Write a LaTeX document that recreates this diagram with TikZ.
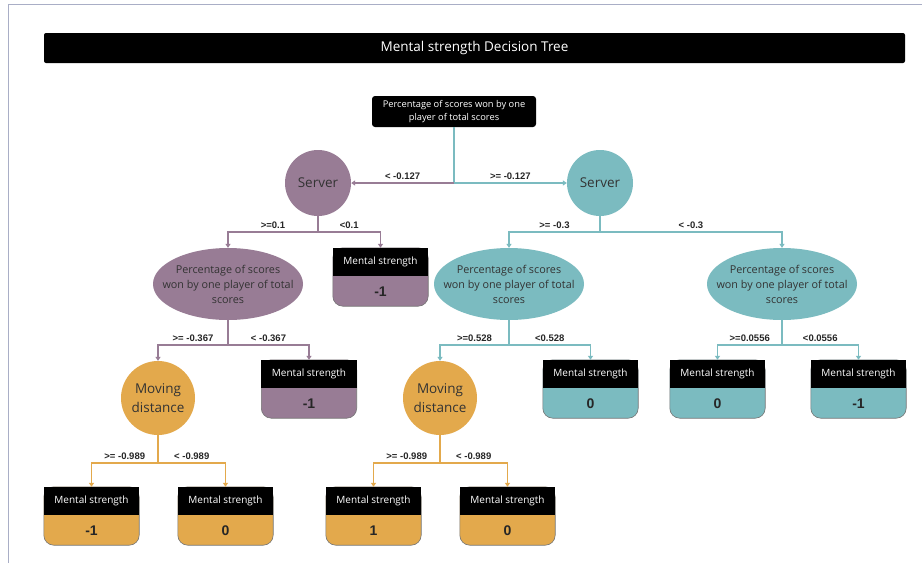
\documentclass[tikz,border=0pt]{standalone}
\usepackage{fontspec}
\setmainfont{Open Sans}
\newfontfamily\arialfont{Liberation Sans}
\usetikzlibrary{arrows.meta,shapes.geometric}
\definecolor{cpur}{HTML}{987C95}
\definecolor{cteal}{HTML}{7BBBC0}
\definecolor{corg}{HTML}{E3A94C}
\definecolor{cframe}{HTML}{A9AEC6}
\tikzset{
 conn/.style={line width=1.2pt,-{Triangle[length=4pt,width=5pt]}},
 elab/.style={font=\arialfont\bfseries\fontsize{9.5}{10}\selectfont, text=black!85, inner sep=2.5pt, above},
 circ/.style={circle, minimum size=66pt, inner sep=0pt, font=\fontsize{13.5}{19}\selectfont, text=black!80, align=center},
 ell/.style={ellipse, minimum width=150pt, minimum height=72pt, inner xsep=-14pt, inner ysep=4pt, align=center, font=\fontsize{10.8}{15}\selectfont, text=black!80},
 leafbox/.style={rectangle, minimum width=95pt, minimum height=58pt, inner sep=0pt},
}
\newcommand\leaf[5]{%
 \node[leafbox] (#1) at (#2,#3) {};
 \filldraw[fill=#4, draw=black!55, line width=0.6pt, rounded corners=10pt] (#1.north west) rectangle (#1.south east);
 \fill[black] (#1.north west) rectangle ([yshift=-28pt]#1.north east);
 \node[text=white, font=\fontsize{10}{12}\selectfont] (#1-t) at ([yshift=-14pt]#1.north) {Mental strength};
 \node[font=\arialfont\bfseries\fontsize{14}{15}\selectfont, text=black!85] (#1-v) at ([yshift=-43.5pt]#1.north) {#5};
}
\begin{document}
\begin{tikzpicture}[x=1pt,y=-1pt]
\useasboundingbox (0,0) rectangle (922,563);
\fill[white] (0,0) rectangle (922,563);
\draw[cframe, line width=1pt] (8,563) -- (8,4) -- (922,4);
% title
\node[fill=black, rounded corners=2pt, minimum width=861pt, minimum height=30pt, inner sep=0pt,
  text=white, font=\fontsize{13.5}{15}\selectfont] (title) at (474.5,48) {Mental strength Decision Tree};
% root
\node[fill=black, rounded corners=3pt, minimum width=164pt, minimum height=31pt, inner sep=0pt,
  text=white, align=center, font=\fontsize{9.3}{13.5}\selectfont] (root) at (454,111.5) {Percentage of scores won by one\\player of total scores};
% level 1
\node[circ, fill=cpur] (sL) at (318,183) {Server};
\node[circ, fill=cteal] (sR) at (600,183) {Server};
% level 2
\node[ell, fill=cpur] (eL) at (228,284) {Percentage of scores\\won by one player of total\\scores};
\node[ell, fill=cteal] (eR1) at (509,284) {Percentage of scores\\won by one player of total\\scores};
\node[ell, fill=cteal] (eR2) at (782,284) {Percentage of scores\\won by one player of total\\scores};
\leaf{lfA}{380.5}{277}{cpur}{-1}
% level 3
\node[circ, fill=corg, minimum size=74pt] (md1) at (158,398) {Moving\\distance};
\node[circ, fill=corg, minimum size=74pt] (md2) at (440,398) {Moving\\distance};
\leaf{lfB}{309}{389}{cpur}{-1}
\leaf{lfE}{590.5}{389}{cteal}{0}
\leaf{lfH}{717.5}{389}{cteal}{0}
\leaf{lfI}{858.5}{389}{cteal}{-1}
% level 4
\leaf{lfC}{91.5}{516}{corg}{-1}
\leaf{lfD}{225.5}{516}{corg}{0}
\leaf{lfF}{373.5}{516}{corg}{1}
\leaf{lfG}{507.5}{516}{corg}{0}
% connectors
\draw[conn, cteal] (root.south) -- (root.south |- sR.west) -- node[elab]{>= -0.127} (sR.west);
\draw[conn, cpur] (root.south |- sL.east) -- node[elab]{< -0.127} (sL.east);
\draw[conn, cpur] (sL.south) -- (sL.south |- 0,232) -| node[elab, pos=0.25]{>=0.1} (eL.north);
\draw[conn, cpur] (sL.south) -- (sL.south |- 0,232) -| node[elab, pos=0.25]{<0.1} (lfA.north);
\draw[conn, cteal] (sR.south) -- (sR.south |- 0,232) -| node[elab, pos=0.25]{>= -0.3} (eR1.north);
\draw[conn, cteal] (sR.south) -- (sR.south |- 0,232) -| node[elab, pos=0.25]{< -0.3} (eR2.north);
\draw[conn, cpur] (eL.south) -- (eL.south |- 0,345) -| node[elab, pos=0.25]{>= -0.367} (md1.north);
\draw[conn, cpur] (eL.south) -- (eL.south |- 0,345) -| node[elab, pos=0.25]{< -0.367} (lfB.north);
\draw[conn, cteal] (eR1.south) -- (eR1.south |- 0,345) -| node[elab, pos=0.25]{>=0.528} (md2.north);
\draw[conn, cteal] (eR1.south) -- (eR1.south |- 0,345) -| node[elab, pos=0.25]{<0.528} (lfE.north);
\draw[conn, cteal] (eR2.south) -- (eR2.south |- 0,345) -| node[elab, pos=0.25]{>=0.0556} (lfH.north);
\draw[conn, cteal] (eR2.south) -- (eR2.south |- 0,345) -| node[elab, pos=0.25]{<0.0556} (lfI.north);
\draw[conn, corg] (md1.south) -- (md1.south |- 0,463) -| node[elab, pos=0.25]{>= -0.989} (lfC.north);
\draw[conn, corg] (md1.south) -- (md1.south |- 0,463) -| node[elab, pos=0.25]{< -0.989} (lfD.north);
\draw[conn, corg] (md2.south) -- (md2.south |- 0,463) -| node[elab, pos=0.25]{>= -0.989} (lfF.north);
\draw[conn, corg] (md2.south) -- (md2.south |- 0,463) -| node[elab, pos=0.25]{< -0.989} (lfG.north);
\end{tikzpicture}
\end{document}
